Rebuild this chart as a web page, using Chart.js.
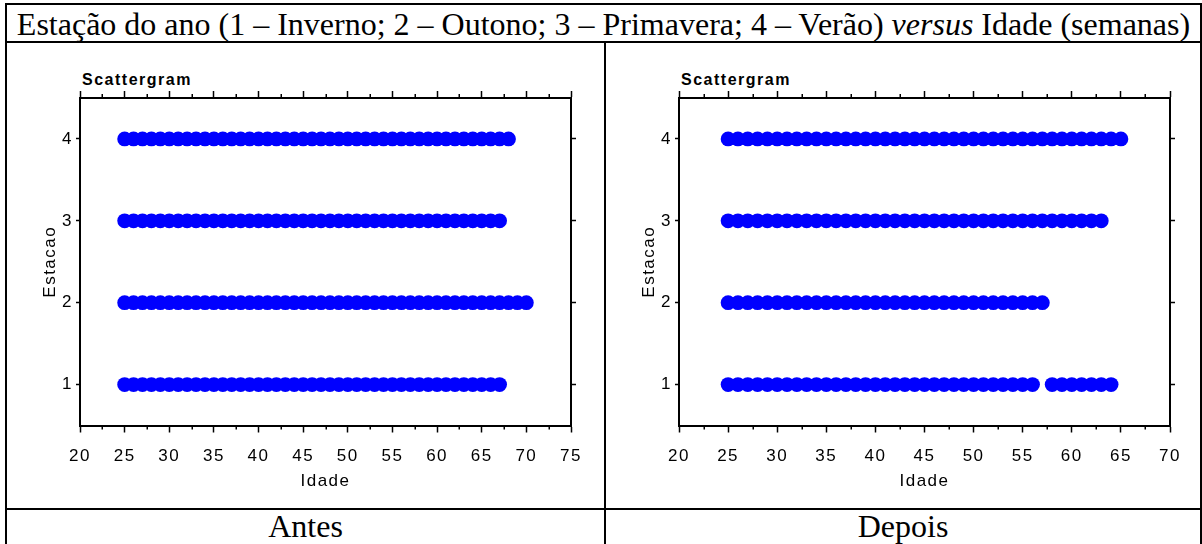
<!DOCTYPE html>
<html>
<head>
<meta charset="utf-8">
<script src="https://cdn.jsdelivr.net/npm/chart.js@4.4.1/dist/chart.umd.min.js"></script>
<style>
  html, body { margin: 0; padding: 0; background: #fff; }
  #page { position: relative; width: 1202px; height: 544px; overflow: hidden; background: #fff; }
  .rule { position: absolute; background: #000; }
  .caption { position: absolute; font-family: "Liberation Serif", "Times New Roman", serif; font-size: 32px; line-height: 32px; color: #000; text-align: center; white-space: nowrap; }
  .ctitle { position: absolute; font-family: "Liberation Sans", Arial, sans-serif; font-weight: bold; font-size: 16px; line-height: 16px; letter-spacing: 1.5px; color: #000; white-space: nowrap; }
  canvas { position: absolute; }
</style>
</head>
<body>
<div id="page">
  <!-- table frame -->
  <div class="rule" style="left:5px;top:3px;width:1197px;height:2px"></div>
  <div class="rule" style="left:5px;top:3px;width:2px;height:541px"></div>
  <div class="rule" style="left:1200px;top:3px;width:2px;height:541px"></div>
  <div class="rule" style="left:5px;top:41px;width:1197px;height:2px"></div>
  <div class="rule" style="left:604px;top:41px;width:2px;height:503px"></div>
  <div class="rule" style="left:5px;top:508px;width:1197px;height:2px"></div>

  <div class="caption" style="left:7px;top:8px;width:1193px">Estação do ano (1 – Inverno; 2 – Outono; 3 – Primavera; 4 – Verão) <i>versus</i> Idade (semanas)</div>

  <div class="ctitle" style="left:82px;top:71.5px">Scattergram</div>
  <div class="ctitle" style="left:681px;top:71.5px">Scattergram</div>

  <canvas id="antes" width="597" height="465" style="left:7px;top:43px"></canvas>
  <canvas id="depois" width="594" height="465" style="left:606px;top:43px"></canvas>

  <div class="caption" style="left:7px;top:510px;width:597px">Antes</div>
  <div class="caption" style="left:606px;top:510px;width:594px">Depois</div>
</div>

<script>
// Season codes on the vertical axis (1 Inverno, 2 Outono, 3 Primavera, 4 Verão)
const estacoes = [1, 2, 3, 4];

// Ages (weeks) observed in each season - before
const antesInverno   = [25,26,27,28,29,30,31,32,33,34,35,36,37,38,39,40,41,42,43,44,45,46,47,48,49,50,51,52,53,54,55,56,57,58,59,60,61,62,63,64,65,66,67];
const antesOutono    = [25,26,27,28,29,30,31,32,33,34,35,36,37,38,39,40,41,42,43,44,45,46,47,48,49,50,51,52,53,54,55,56,57,58,59,60,61,62,63,64,65,66,67,68,69,70];
const antesPrimavera = [25,26,27,28,29,30,31,32,33,34,35,36,37,38,39,40,41,42,43,44,45,46,47,48,49,50,51,52,53,54,55,56,57,58,59,60,61,62,63,64,65,66,67];
const antesVerao     = [25,26,27,28,29,30,31,32,33,34,35,36,37,38,39,40,41,42,43,44,45,46,47,48,49,50,51,52,53,54,55,56,57,58,59,60,61,62,63,64,65,66,67,68];

// Ages (weeks) observed in each season - after
const depoisInverno   = [25,26,27,28,29,30,31,32,33,34,35,36,37,38,39,40,41,42,43,44,45,46,47,48,49,50,51,52,53,54,55,56,58,59,60,61,62,63,64];
const depoisOutono    = [25,26,27,28,29,30,31,32,33,34,35,36,37,38,39,40,41,42,43,44,45,46,47,48,49,50,51,52,53,54,55,56,57];
const depoisPrimavera = [25,26,27,28,29,30,31,32,33,34,35,36,37,38,39,40,41,42,43,44,45,46,47,48,49,50,51,52,53,54,55,56,57,58,59,60,61,62,63];
const depoisVerao     = [25,26,27,28,29,30,31,32,33,34,35,36,37,38,39,40,41,42,43,44,45,46,47,48,49,50,51,52,53,54,55,56,57,58,59,60,61,62,63,64,65];

// Axis tick values
const idadeTicksAntes  = [20, 25, 30, 35, 40, 45, 50, 55, 60, 65, 70, 75];
const idadeMinorAntes  = [22.5, 27.5, 32.5, 37.5, 42.5, 47.5, 52.5, 57.5, 62.5, 67.5, 72.5];
const idadeTicksDepois = [20, 25, 30, 35, 40, 45, 50, 55, 60, 65, 70];
const idadeMinorDepois = [22.5, 27.5, 32.5, 37.5, 42.5, 47.5, 52.5, 57.5, 62.5, 67.5];
const estacaoTicks = [1, 2, 3, 4];
const estacaoMin = 0.5, estacaoMax = 4.5;

const FAMILY = "'Liberation Sans', Arial, sans-serif";
const labelFont = { family: FAMILY, size: 17 };

// slightly tracked text, like the original statistics package output
const trackingPlugin = {
  id: 'tracking',
  beforeDraw(chart) { chart.ctx.letterSpacing = '1.5px'; }
};

// short minor ticks on the top and bottom axes
const minorTicksPlugin = {
  id: 'minorTicks',
  afterDraw(chart, args, opts) {
    const ctx = chart.ctx;
    const { top, bottom } = chart.chartArea;
    const xs = chart.scales.x;
    ctx.save();
    ctx.strokeStyle = '#000';
    ctx.lineWidth = 1.5;
    ctx.beginPath();
    (opts.values || []).forEach(v => {
      const px = Math.round(xs.getPixelForValue(v)) + 0.25;
      ctx.moveTo(px, bottom); ctx.lineTo(px, bottom + 4);
      ctx.moveTo(px, top); ctx.lineTo(px, top - 4);
    });
    ctx.stroke();
    ctx.restore();
  }
};

function fixedTicks(values) {
  return scale => { scale.ticks = values.map(v => ({ value: v })); };
}

function tickGrid(len) {
  return { display: true, drawOnChartArea: false, drawTicks: true, tickLength: len, tickWidth: 1.5, tickColor: '#000' };
}

const axisBorder = { display: true, color: '#000', width: 2 };

function makeChart(id, rows, xTicks, xMinor, canvasWidth) {
  const xMin = xTicks[0], xMax = xTicks[xTicks.length - 1];
  const datasets = rows.map((ages, i) => ({
    label: 'Estacao ' + estacoes[i],
    data: ages.map(a => ({ x: a, y: estacoes[i] })),
    backgroundColor: '#0000ff',
    borderWidth: 0,
    pointRadius: 7.4,
    pointHoverRadius: 7.4
  }));
  return new Chart(document.getElementById(id), {
    type: 'scatter',
    data: { datasets },
    plugins: [trackingPlugin, minorTicksPlugin],
    options: {
      responsive: false,
      animation: false,
      events: [],
      layout: { padding: { left: 25, top: 47, right: canvasWidth - 564 - 8, bottom: 12.5 } },
      plugins: {
        legend: { display: false },
        tooltip: { enabled: false },
        minorTicks: { values: xMinor }
      },
      scales: {
        x: {
          type: 'linear', position: 'bottom', min: xMin, max: xMax,
          afterBuildTicks: fixedTicks(xTicks),
          afterFit: s => { s.height = 70; },
          grid: tickGrid(7), border: axisBorder,
          ticks: { font: labelFont, color: '#000', padding: 13.5, maxRotation: 0, autoSkip: false },
          title: { display: true, text: 'Idade', font: labelFont, color: '#000', padding: { top: 0, bottom: 3.5 } }
        },
        x2: {
          type: 'linear', position: 'top', min: xMin, max: xMax,
          afterBuildTicks: fixedTicks(xTicks),
          afterFit: s => { s.height = 8; },
          grid: tickGrid(7), border: axisBorder,
          ticks: { display: false }
        },
        y: {
          type: 'linear', position: 'left', min: estacaoMin, max: estacaoMax,
          afterBuildTicks: fixedTicks(estacaoTicks),
          afterFit: s => { s.width = 48; },
          grid: tickGrid(4), border: axisBorder,
          ticks: { font: labelFont, color: '#000', padding: 3 },
          title: { display: true, text: 'Estacao', font: labelFont, color: '#000', padding: { top: 8.5, bottom: 0 } }
        },
        y2: {
          type: 'linear', position: 'right', min: estacaoMin, max: estacaoMax,
          afterBuildTicks: fixedTicks(estacaoTicks),
          afterFit: s => { s.width = 8; },
          grid: tickGrid(5), border: axisBorder,
          ticks: { display: false }
        }
      }
    }
  });
}

makeChart('antes',
  [antesInverno, antesOutono, antesPrimavera, antesVerao],
  idadeTicksAntes, idadeMinorAntes, 597);

makeChart('depois',
  [depoisInverno, depoisOutono, depoisPrimavera, depoisVerao],
  idadeTicksDepois, idadeMinorDepois, 594);
</script>
</body>
</html>
